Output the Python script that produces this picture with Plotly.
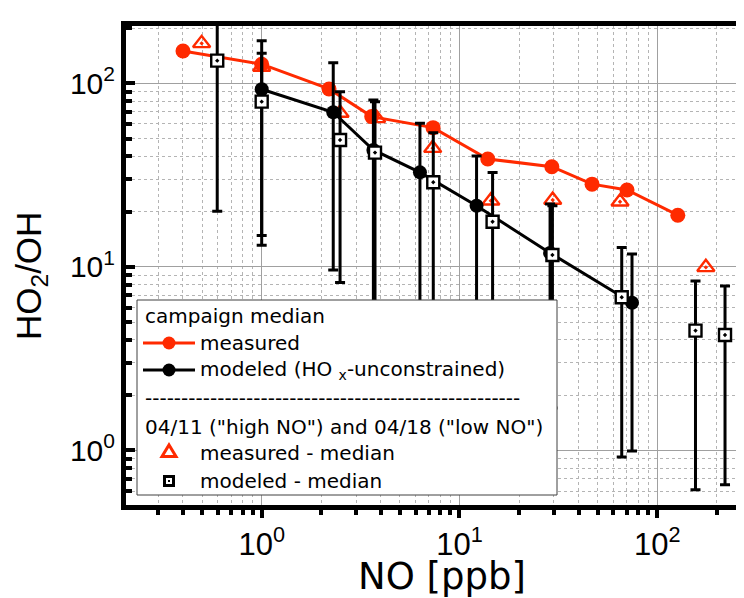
import plotly.graph_objects as go

# ---------------- data ----------------
# campaign median, measured HO2/OH
meas_no = [0.40, 1.0, 2.19, 3.60, 7.35, 13.9, 29.3, 46.8, 70.3, 127]
meas_ratio = [150, 127, 93.1, 65.8, 57.3, 38.7, 35.1, 28.2, 26.2, 19.1]

# campaign median, modeled (HOx-unconstrained)
mod_no = [1.0, 2.30, 3.67, 6.31, 12.2, 28.7, 74.5]
mod_ratio = [92.7, 69.5, 43.3, 32.7, 21.5, 11.9, 6.37]
mod_err = [77.9, 59.9, 37.8, 27.8, 18.7, 10.1, 5.38]

# 04/11 and 04/18: measured median
day_meas_no = [0.497, 1.0, 2.49, 3.81, 7.32, 14.4, 29.6, 64.8, 176]
day_meas_ratio = [165, 122.7, 68.9, 64.4, 44.3, 22.9, 23.1, 22.6, 9.93]

# 04/11 and 04/18: modeled median
day_mod_no = [0.596, 1.0, 2.49, 3.74, 7.37, 14.7, 29.5, 66.1, 156, 220]
day_mod_ratio = [132.8, 79.4, 49.1, 41.9, 28.9, 17.6, 11.6, 6.82, 4.49, 4.25]
day_mod_err = [112.7, 66.3, 40.9, 37.5, 24.9, 15.0, 9.9, 5.9, 3.88, 3.60]

tick_vals = [1, 10, 100]
tick_text = ["10<sup>0</sup>", "10<sup>1</sup>", "10<sup>2</sup>"]
minor_vals = [m * 10.0 ** e for e in (-1, 0, 1, 2) for m in range(2, 10)]

x_range = [-0.686, 2.4586]
y_range = [-0.298, 2.312]

# ---------------- layout geometry ----------------
# the page places the figure 8 px right / down of the window corner,
# so screen coordinates are figure coordinates + OFF
OFF = 8
W, H = 744, 598
L, R, T, B = 126, 748, 26, 505          # plot area, screen pixels
RED = "#ff2a00"
FONT = "Liberation Sans, Arial, sans-serif"
LEG_FONT = "DejaVu Sans, sans-serif"


def px(x):
    return (x - L) / (R - L)


def py(y):
    return (B - y) / (B - T)


fig = go.Figure()

fig.add_trace(go.Scatter(
    x=meas_no, y=meas_ratio, mode="lines+markers", name="measured",
    line=dict(color=RED, width=3),
    marker=dict(symbol="circle", size=15, color=RED),
))
fig.add_trace(go.Scatter(
    x=day_meas_no, y=day_meas_ratio, mode="markers", name="measured - median",
    marker=dict(symbol="triangle-up-open-dot", size=15, color=RED,
                line=dict(color=RED, width=2.4)),
))
fig.add_trace(go.Scatter(
    x=mod_no, y=mod_ratio, mode="lines+markers", name="modeled (HOx-unconstrained)",
    line=dict(color="black", width=3),
    marker=dict(symbol="circle", size=14, color="black"),
    error_y=dict(type="data", array=mod_err, symmetric=True, color="black",
                 thickness=3, width=5),
))
fig.add_trace(go.Scatter(
    x=day_mod_no, y=day_mod_ratio, mode="markers", name="modeled - median",
    marker=dict(symbol="square-dot", size=12, color="white",
                line=dict(color="black", width=2.4)),
    error_y=dict(type="data", array=day_mod_err, symmetric=True, color="black",
                 thickness=3, width=5),
    cliponaxis=False,
))

axis_common = dict(
    type="log", automargin=False,
    tickmode="array", tickvals=tick_vals, ticktext=tick_text,
    showline=True, linecolor="black", linewidth=5,
    tickcolor="black", tickwidth=4,
    showgrid=True, gridcolor="#a0a0a0", gridwidth=1,
    zeroline=False,
)

fig.update_xaxes(
    **axis_common, range=x_range, mirror=True,
    ticks="outside", ticklen=8,
    tickfont=dict(family=FONT, size=31, color="black"),
    minor=dict(tickmode="array", tickvals=minor_vals, ticks="outside", ticklen=5,
               tickwidth=4, tickcolor="black", showgrid=True,
               gridcolor="#b4b4b4", griddash="dot", gridwidth=1),
)
fig.update_yaxes(
    **axis_common, range=y_range, mirror="ticks",
    ticks="inside", ticklen=9,
    tickfont=dict(family=FONT, size=30, color="black"),
    minor=dict(tickmode="array", tickvals=minor_vals, ticks="inside", ticklen=6,
               tickwidth=4, tickcolor="black", showgrid=True,
               gridcolor="#b4b4b4", griddash="dot", gridwidth=1),
)

shapes = []
annotations = []

# axis titles
annotations.append(dict(text="HO<sub>2</sub>/OH", xref="paper", yref="paper",
                        x=px(31), y=py(276), xanchor="center", yanchor="middle",
                        textangle=-90, showarrow=False, borderpad=0,
                        font=dict(family=FONT, size=35, color="black")))
annotations.append(dict(text="NO [ppb]", xref="paper", yref="paper",
                        x=px(442), y=py(576), xanchor="center", yanchor="middle",
                        showarrow=False, borderpad=0,
                        font=dict(family="DejaVu Sans, sans-serif", size=37, color="black")))

# legend box
shapes.append(dict(type="rect", xref="paper", yref="paper", layer="above",
                   x0=px(137), x1=px(557), y0=py(300), y1=py(495),
                   fillcolor="white", line=dict(color="#404040", width=1)))

leg_font = dict(family=LEG_FONT, size=20, color="black")


def leg_text(txt, x, y):
    annotations.append(dict(text=txt, xref="paper", yref="paper", x=px(x), y=py(y),
                            xanchor="left", yanchor="middle", showarrow=False,
                            font=leg_font))


leg_text("campaign median", 143, 316)
leg_text("measured", 198, 343)
leg_text("modeled (HO <sub>x</sub>-unconstrained)", 198, 370)
leg_text("-" * 52, 143, 398)
leg_text("04/11 (\"high NO\") and 04/18 (\"low NO\")", 143, 427)
leg_text("measured - median", 198, 453)
leg_text("modeled - median", 198, 481)

for yy, col in ((343, RED), (370, "black")):
    shapes.append(dict(type="line", xref="paper", yref="paper", layer="above",
                       x0=px(143), x1=px(195), y0=py(yy), y1=py(yy),
                       line=dict(color=col, width=3)))
    shapes.append(dict(type="circle", xref="paper", yref="paper", layer="above",
                       x0=px(162.5), x1=px(175.5), y0=py(yy - 6.5), y1=py(yy + 6.5),
                       fillcolor=col, line=dict(color=col, width=0)))

# triangle key
tri = "M {:.5f},{:.5f} L {:.5f},{:.5f} L {:.5f},{:.5f} Z".format(
    px(162), py(456.5), px(176), py(456.5), px(169), py(445))
shapes.append(dict(type="path", xref="paper", yref="paper", layer="above", path=tri,
                   fillcolor="white", line=dict(color=RED, width=3)))
# square key
shapes.append(dict(type="rect", xref="paper", yref="paper", layer="above",
                   x0=px(164.5), x1=px(173.5), y0=py(476.5), y1=py(485.5),
                   fillcolor="white", line=dict(color="black", width=3)))
shapes.append(dict(type="rect", xref="paper", yref="paper", layer="above",
                   x0=px(168), x1=px(170), y0=py(480), y1=py(482),
                   fillcolor="black", line=dict(color="black", width=0)))

fig.update_layout(
    width=W, height=H,
    margin=dict(l=L - OFF, r=W - (R - OFF), t=T - OFF, b=H - (B - OFF)),
    paper_bgcolor="white", plot_bgcolor="white",
    showlegend=False,
    shapes=shapes, annotations=annotations,
    font=dict(family=FONT, color="black"),
)

fig.write_html("out.html")
